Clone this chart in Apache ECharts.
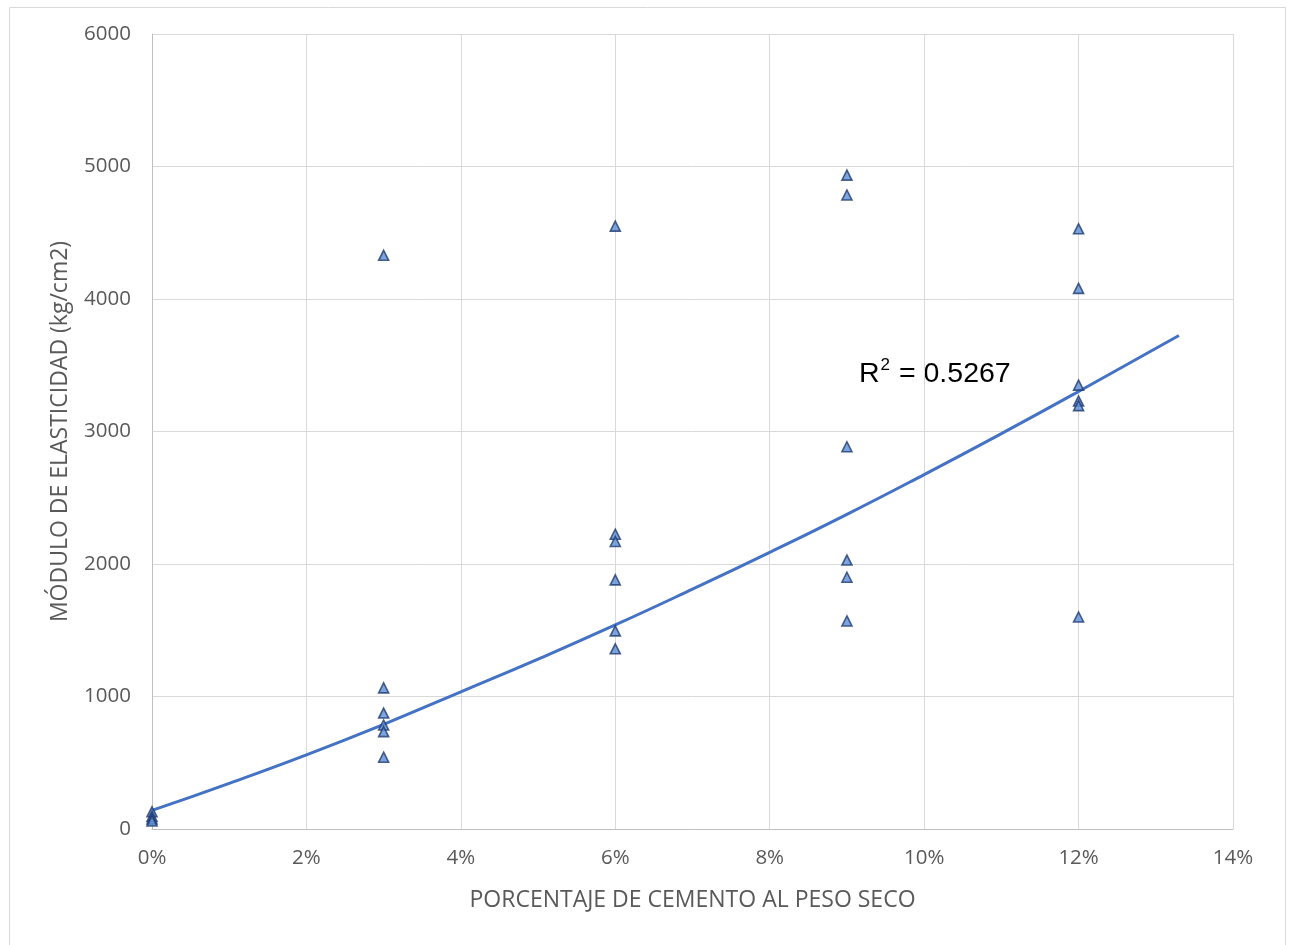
<!DOCTYPE html>
<html>
<head>
<meta charset="utf-8">
<script src="https://cdn.jsdelivr.net/npm/echarts@6/dist/echarts.min.js"></script>
<style>html,body{margin:0;padding:0;background:#fff}#chart{width:1291px;height:945px}</style>
</head>
<body>
<div id="chart"></div>
<script>
// Observed points: cement % and modulus (kg/cm2)
var cementPct = [0,0,0,0, 3,3,3,3,3,3, 6,6,6,6,6,6, 9,9,9,9,9,9, 12,12,12,12,12,12];
var modulus   = [130,95,75,60, 4330,1065,875,785,735,542, 4550,2225,2170,1880,1495,1360, 4935,4785,2885,2030,1900,1570, 4530,4080,3350,3230,3195,1600];
// Trendline
var trendX = [0,1,2,3,4,5,6,7,8,9,10,11,12,13.3];
var trendY = [140,345,560,790,1035,1282,1540,1810,2088,2375,2675,2984,3302,3725];
var xTicks = [0,2,4,6,8,10,12,14];
var yTicks = [0,1000,2000,3000,4000,5000,6000];
var r2Text = '0.5267';

var pts = cementPct.map(function(x,i){return [x, modulus[i]];});
var trend = trendX.map(function(x,i){return [x, trendY[i]];});

var chart = echarts.init(document.getElementById('chart'));
var labelFont = {color:'#595959', fontFamily:'Open Sans', fontSize:20.5};
chart.setOption({
  animation:false,
  backgroundColor:'#fff',
  grid:{left:152, top:34, right:58, bottom:116, containLabel:false},
  xAxis:{
    type:'value', min:xTicks[0], max:xTicks[xTicks.length-1], interval:2,
    name:'PORCENTAJE DE CEMENTO AL PESO SECO', nameLocation:'middle', nameGap:60,
    nameTextStyle:{color:'#595959', fontFamily:'Open Sans', fontSize:23},
    axisLine:{show:true, lineStyle:{color:'#BFBFBF', width:1}},
    axisTick:{show:false},
    axisLabel:Object.assign({margin:19, formatter:'{value}%'}, labelFont),
    splitLine:{show:true, lineStyle:{color:'#D9D9D9', width:1}}
  },
  yAxis:{
    type:'value', min:yTicks[0], max:yTicks[yTicks.length-1], interval:1000,
    name:'MÓDULO DE ELASTICIDAD (kg/cm2)', nameLocation:'middle', nameGap:80,
    nameTextStyle:{color:'#595959', fontFamily:'Open Sans', fontSize:23},
    axisLine:{show:true, lineStyle:{color:'#BFBFBF', width:1}},
    axisTick:{show:false},
    axisLabel:Object.assign({margin:21, formatter:function(v){return String(v);}}, labelFont),
    splitLine:{show:true, lineStyle:{color:'#D9D9D9', width:1}}
  },
  series:[
    {
      type:'line', data:trend, smooth:true, showSymbol:false, z:2,
      lineStyle:{color:'#4472C4', width:3}
    },
    {
      type:'scatter', data:pts, symbol:'triangle', symbolSize:10, z:3,
      itemStyle:{color:'#5B8FD6', borderColor:'#1F3A70', borderWidth:1.6}
    }
  ],
  graphic:[
    {type:'rect', left:7, top:5, shape:{width:1276, height:945}, style:{fill:'none', stroke:'#D9D9D9', lineWidth:1}, silent:true},
    {type:'text', left:859, top:357, style:{
      text:'{b|R}{s|2}{b| = ' + r2Text + '}',
      rich:{
        b:{fontFamily:'Liberation Sans', fontSize:28.5, fill:'#000', verticalAlign:'bottom'},
        s:{fontFamily:'Liberation Sans', fontSize:17, fill:'#000', verticalAlign:'top', padding:[0,1,15,1]}
      }
    }}
  ]
});
</script>
</body>
</html>
